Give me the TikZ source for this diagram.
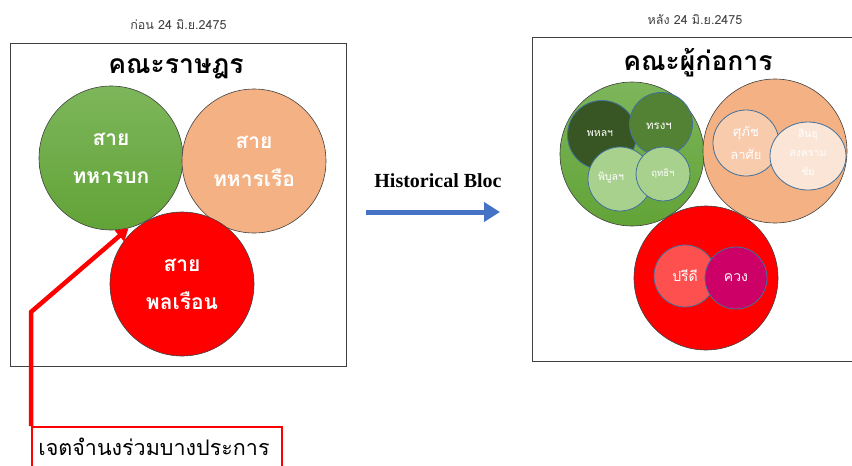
\documentclass[tikz,border=0pt]{standalone}
\usepackage{fontspec}
\usepackage{xcolor}
\usetikzlibrary{positioning,arrows.meta,shapes.geometric}
\newfontfamily\thai[Script=Thai]{Loma}
\newfontfamily\blocfont{Liberation Serif}
\definecolor{armytop}{HTML}{7DB65B}
\definecolor{armybottom}{HTML}{62A337}
\definecolor{navyorange}{HTML}{F4B183}
\definecolor{civilred}{HTML}{FF0000}
\definecolor{darkgreen}{HTML}{375623}
\definecolor{midgreen}{HTML}{548235}
\definecolor{lightgreen}{HTML}{A9D18E}
\definecolor{peach}{HTML}{F8CBAD}
\definecolor{palepeach}{HTML}{FBE5D6}
\definecolor{salmon}{HTML}{FF5050}
\definecolor{magenta}{HTML}{CC0066}
\definecolor{rim}{HTML}{41719C}
\definecolor{flowblue}{HTML}{4472C4}

\begin{document}
\begin{tikzpicture}[x=1pt, y=-1pt,
    frame/.style={draw=#1, line width=0.8pt, anchor=north west, inner sep=0pt},
    caption/.style={font=\thai\fontsize{12.5}{15}\selectfont, text=black!75},
    headline/.style={font=\thai\bfseries\fontsize{26.5}{32}\selectfont},
    party/.style={circle, draw=black!75, line width=0.6pt, minimum size=144pt, inner sep=0pt,
      align=center, text=white, font=\thai\bfseries\fontsize{21}{38}\selectfont},
    armyfill/.style={top color=armytop, bottom color=armybottom},
    member/.style={circle, draw=rim, line width=0.8pt, inner sep=0pt,
      align=center, text=white, font=\thai\fontsize{#1}{23}\selectfont},
    member/.default=10]
  \useasboundingbox (0,0) rectangle (852,466);
  \clip (0,0) rectangle (852,466);

  \node[frame=black!75, minimum width=336pt, minimum height=323pt] (before) at (10,43) {};
  \node[caption, above=10pt of before.north] (beforecap) {ก่อน 24 มิ.ย.2475};
  \node[headline] (khana) at (176,69) {คณะราษฎร};

  \node[party, armyfill] (army) at (111,158) {สาย\\ทหารบก};
  \node[party, fill=navyorange] (navy) at (254,161) {สาย\\ทหารเรือ};
  \node[party, fill=civilred] (civil) at (182,284) {สาย\\พลเรือน};

  \node[frame=red, line width=2pt, minimum width=250pt, minimum height=60pt] (will) at (31,426) {};
  \node[font=\thai\fontsize{21.5}{26}\selectfont] (willtext) at (154,447) {เจตจำนงร่วมบางประการ};
  \coordinate[above=114pt of will.north west] (bend);
  \draw[red, line width=4.5pt, -{Triangle[length=12pt, width=14pt]}]
    (will.north west) -- (bend) -- (army.-76);

  \node[font=\blocfont\bfseries\fontsize{20}{24}\selectfont] (bloc) at (438,181) {Historical Bloc};
  \coordinate[below=31pt of bloc.center, xshift=-72pt] (flowstart);
  \coordinate[below=31pt of bloc.center, xshift=62pt] (flowend);
  \draw[flowblue, line width=5pt, -{Triangle[length=16pt, width=19pt]}] (flowstart) -- (flowend);

  \node[frame=black!75, minimum width=330pt, minimum height=324pt] (after) at (532,37) {};
  \node[caption] (aftercap) at (695,20) {หลัง 24 มิ.ย.2475};
  \node[headline] (promoters) at (698,63) {คณะผู้ก่อการ};

  \node[party, armyfill] (armyb) at (632,154) {};
  \node[party, fill=navyorange] (navyb) at (775,151) {};
  \node[party, fill=civilred] (civilb) at (706,278) {};

  \node[member=10, fill=darkgreen, minimum size=69pt] (phahon) at (602,135) {};
  \node[member=11, fill=midgreen, minimum size=63pt] (song) at (661,124) {};
  \node[member=10, fill=lightgreen, minimum size=64pt] (phibun) at (620,179) {};
  \node[member=9.5, fill=lightgreen, minimum size=54pt] (ritthi) at (663,174) {ฤทธิฯ};
  \node[text=white, font=\thai\fontsize{10.5}{12}\selectfont] at (600,134) {พหลฯ};
  \node[text=white, font=\thai\fontsize{11.5}{13}\selectfont] at (659,126) {ทรงฯ};
  \node[text=white, font=\thai\fontsize{10.5}{12}\selectfont] at (611,178) {พิบูลฯ};

  \node[member=13, fill=peach, minimum size=66pt] (suphat) at (746,143) {ศุภัช\\ลาศัย};
  \node[draw=rim, line width=0.8pt, ellipse, fill=palepeach, minimum width=76pt, minimum height=68pt,
        inner sep=0pt] (sinthu) at (808,156) {};
  \node[align=center, text=white, font=\thai\fontsize{10.5}{19}\selectfont] at (808,152) {สินธุ\\สงคราม\\ชัย};

  \node[member=14, fill=salmon, minimum size=62pt] (pridi) at (685,276) {ปรีดี};
  \node[member=14, fill=magenta, minimum size=62pt] (khuang) at (736,278) {ควง};
\end{tikzpicture}
\end{document}
